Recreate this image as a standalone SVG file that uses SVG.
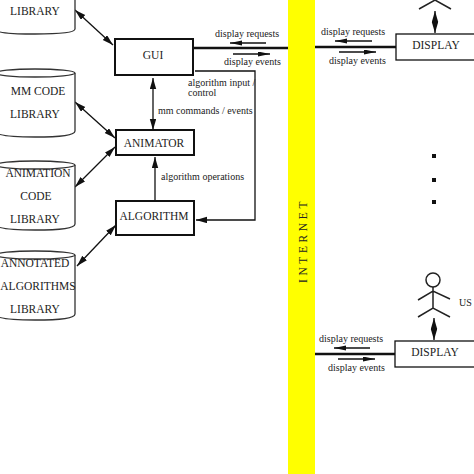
<svg xmlns="http://www.w3.org/2000/svg" width="474" height="474" viewBox="0 0 474 474">
<style>
text{font-family:"Liberation Serif","Times New Roman",serif;fill:#222}
.n{font-size:11.5px;text-anchor:middle}
.l{font-size:10px}
.box{fill:#fff;stroke:#111;stroke-width:2}
.cyl{fill:#fff;stroke:#333;stroke-width:1.3}
.c{fill:none;stroke:#111;stroke-width:1.3}
.th{fill:none;stroke:#111;stroke-width:2.6}
.m{fill:none;stroke:#222;stroke-width:1.5}
</style>
<defs>
<marker id="a" markerUnits="userSpaceOnUse" markerWidth="12" markerHeight="8" refX="11" refY="3.2" orient="auto-start-reverse"><path d="M0 0L11 3.2L0 6.4z" fill="#111"/></marker>
<marker id="b" markerUnits="userSpaceOnUse" markerWidth="13" markerHeight="6" refX="12" refY="2.5" orient="auto-start-reverse"><path d="M0 0L12 2.5L0 5z" fill="#111"/></marker>
</defs>
<rect id="internet" x="288" y="0" width="27" height="474" fill="#ff0"/>
<text transform="translate(307 283) rotate(-90)" font-size="11.5" letter-spacing="3.6">INTERNET</text>
<g id="connectors">
<path class="c" d="M75 10L113 45" marker-start="url(#a)" marker-end="url(#a)"/>
<path class="c" d="M75 102L115 138" marker-start="url(#a)" marker-end="url(#a)"/>
<path class="c" d="M75 187L115 147" marker-start="url(#a)" marker-end="url(#a)"/>
<path class="c" d="M77 266L116 225" marker-start="url(#a)" marker-end="url(#a)"/>
<path class="c" d="M153 78V130" stroke-width="1.6" marker-start="url(#a)" marker-end="url(#a)"/>
<path class="c" d="M155 201V157" stroke-width="1.6" marker-end="url(#a)"/>
<path class="c" d="M195 71H255V220H196" marker-end="url(#a)"/>
<path class="th" d="M193 48H288"/>
<path class="th" d="M315 47H396"/>
<path class="th" d="M315 354H395"/>
<path class="c" d="M266 43H230" marker-end="url(#b)"/>
<path class="c" d="M233 54H270" marker-end="url(#b)"/>
<path class="c" d="M372 41H335" marker-end="url(#b)"/>
<path class="c" d="M339 52H376" marker-end="url(#b)"/>
<path class="c" d="M370 348H334" marker-end="url(#b)"/>
<path class="c" d="M338 359H375" marker-end="url(#b)"/>
<path class="c" d="M435 11V33" stroke-width="1.6" marker-start="url(#a)" marker-end="url(#a)"/>
<path class="c" d="M434 318V340" stroke-width="1.6" marker-start="url(#a)" marker-end="url(#a)"/>
</g>
<g id="lib1">
<path class="cyl" d="M75 -10V29Q75 34 35 34T-5 29V-10"/>
<text class="n" x="35" y="15">LIBRARY</text>
</g>
<g id="lib2">
<path class="cyl" d="M-5 73V131Q-5 137 35 137T75 131V73"/><ellipse class="cyl" cx="35" cy="73" rx="40" ry="4"/>
<text class="n" x="38" y="95">MM CODE</text>
<text class="n" x="35" y="118">LIBRARY</text>
</g>
<g id="lib3">
<path class="cyl" d="M-5 165V224Q-5 230 35 230T75 224V165"/><ellipse class="cyl" cx="35" cy="165" rx="40" ry="4"/>
<text class="n" x="38" y="177">ANIMATION</text>
<text class="n" x="36" y="200">CODE</text>
<text class="n" x="35" y="223">LIBRARY</text>
</g>
<g id="lib4">
<path class="cyl" d="M-5 255V314Q-5 320 35 320T75 314V255"/><ellipse class="cyl" cx="35" cy="255" rx="40" ry="4"/>
<text class="n" x="35" y="267">ANNOTATED</text>
<text class="n" x="38" y="290">ALGORITHMS</text>
<text class="n" x="35" y="313">LIBRARY</text>
</g>
<g id="gui"><rect class="box" x="115" y="39" width="78" height="36"/><text class="n" x="153" y="59">GUI</text></g>
<g id="animator"><rect class="box" x="116" y="130" width="78" height="25"/><text class="n" x="154" y="147">ANIMATOR</text></g>
<g id="algorithm"><rect class="box" x="116" y="201" width="78" height="34"/><text class="n" x="154" y="220">ALGORITHM</text></g>
<g id="display1"><rect x="396" y="34" width="90" height="26" fill="#fff" stroke="#111" stroke-width="1.3"/><text class="n" x="436" y="49">DISPLAY</text></g>
<g id="display2"><rect x="395" y="341" width="90" height="26" fill="#fff" stroke="#111" stroke-width="1.3"/><text class="n" x="435" y="356">DISPLAY</text></g>
<g id="user1"><path class="m" d="M419 9L435 0L451 9"/></g>
<g id="user2">
<circle class="m" cx="433" cy="280" r="7"/>
<path class="m" d="M433 287V308M418 300L433 291L450 299M418 317L433 308L450 317"/>
<text class="l" x="459" y="306">US</text>
</g>
<g id="dots" fill="#111"><rect x="432" y="154" width="4" height="4"/><rect x="432" y="178" width="4" height="4"/><rect x="432" y="200" width="4" height="4"/></g>
<g id="labels">
<text class="l" x="215" y="37">display requests</text>
<text class="l" x="224" y="65">display events</text>
<text class="l" x="188" y="86">algorithm input /</text>
<text class="l" x="188" y="96">control</text>
<text class="l" x="158" y="114">mm commands / events</text>
<text class="l" x="161" y="180">algorithm operations</text>
<text class="l" x="321" y="35">display requests</text>
<text class="l" x="329" y="64">display events</text>
<text class="l" x="319" y="342">display requests</text>
<text class="l" x="328" y="371">display events</text>
</g>
</svg>
